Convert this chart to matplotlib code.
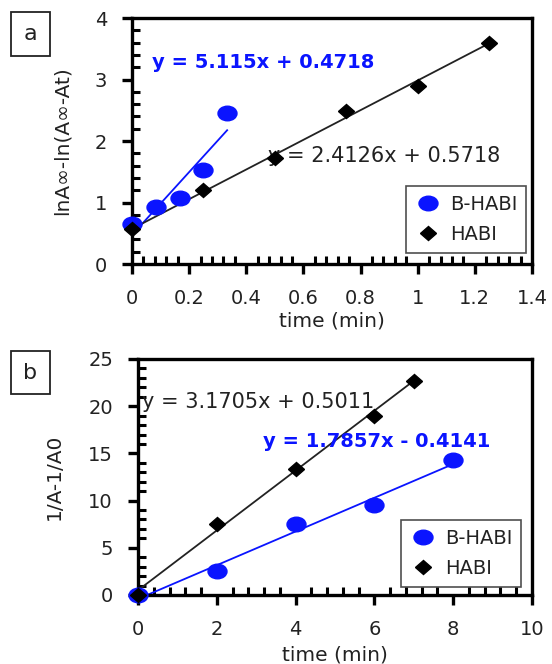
import matplotlib
matplotlib.use('Agg')
import matplotlib.pyplot as plt
from matplotlib.ticker import MultipleLocator
from matplotlib.markers import MarkerStyle
from matplotlib.transforms import Affine2D
from matplotlib.patches import Rectangle
import numpy as np

plt.rcParams['font.family'] = ['DejaVu Sans']

#******  PANEL a : first order plot  ******#
a_bhabi_t = [0, 0.083, 0.167, 0.25, 0.333]
a_bhabi_y = [0.65, 0.92, 1.08, 1.53, 2.46]
a_habi_t = [0, 0.25, 0.5, 0.75, 1.0, 1.25]
a_habi_y = [0.57, 1.2, 1.72, 2.49, 2.9, 3.6]
a_bhabi_fit = (5.115, 0.4718)
a_habi_fit = (2.4126, 0.5718)
a_xticklabels = ['0', '0.2', '0.4', '0.6', '0.8', '1', '1.2', '1.4']

#******  PANEL b : second order plot  ******#
b_bhabi_t = [0, 2, 4, 6, 8]
b_bhabi_y = [0, 2.5, 7.5, 9.5, 14.3]
b_habi_t = [0, 2, 4, 6, 7]
b_habi_y = [0, 7.5, 13.4, 19.0, 22.7]
b_bhabi_fit = (1.7857, -0.4141)
b_habi_fit = (3.1705, 0.5011)

BLUE = '#0a14ff'
DARK = '#222222'
TICK_FS = 14
LAB_FS = 14.5
EQ_FS = 15

W, H = 552, 664
fig = plt.figure(figsize=(W / 100, H / 100), dpi=100)

# wide ellipse / flattened diamond markers
oval = MarkerStyle('o', transform=Affine2D().scale(1.3, 1.0))
diam = MarkerStyle('D', transform=Affine2D().scale(1.15, 1.0))

def make_axes(left, top, right, bottom):
    return fig.add_axes([left / W, 1 - bottom / H, (right - left) / W, (bottom - top) / H])

def fit_label(slope, icpt):
    sign = '+' if icpt >= 0 else '-'
    return 'y = %gx %s %g' % (slope, sign, abs(icpt))

def style(ax, xmaj, xmin, ymaj, ymin):
    for s in ax.spines.values():
        s.set_linewidth(2.4)
    ax.xaxis.set_major_locator(MultipleLocator(xmaj))
    ax.xaxis.set_minor_locator(MultipleLocator(xmin))
    ax.yaxis.set_major_locator(MultipleLocator(ymaj))
    ax.yaxis.set_minor_locator(MultipleLocator(ymin))
    ax.tick_params(which='major', direction='out', length=7, width=2.4,
                   labelsize=TICK_FS, pad=11, labelcolor=DARK)
    ax.tick_params(which='minor', direction='in', length=5.5, width=2.2)
    ax.tick_params(top=False, right=False, which='both')

def draw_panel(ax, bt, by, ht, hy, bfit, hfit, leg_anchor):
    xb = np.array([min(bt), max(bt)])
    xh = np.array([min(ht), max(ht)])
    ax.plot(xb, bfit[0] * xb + bfit[1], color=BLUE, lw=1.3, zorder=2)
    ax.plot(xh, hfit[0] * xh + hfit[1], color=DARK, lw=1.3, zorder=2)
    ax.plot(bt, by, ls='none', marker=oval, color=BLUE, ms=10.5, mec=BLUE,
            label='B-HABI', zorder=3, clip_on=False)
    ax.plot(ht, hy, ls='none', marker=diam, color='black', ms=7,
            label='HABI', zorder=4, clip_on=False)
    leg = ax.legend(loc='lower right', bbox_to_anchor=leg_anchor, fontsize=TICK_FS,
                    frameon=True, fancybox=False, edgecolor=DARK, handletextpad=0.4,
                    borderpad=0.45, labelspacing=0.6, handlelength=1.4,
                    borderaxespad=0)
    leg.get_frame().set_linewidth(1.2)
    for t in leg.get_texts():
        t.set_color(DARK)

def panel_tag(cx, cy, letter):
    fig.patches.append(Rectangle(((cx - 19.5) / W, 1 - (cy + 21.5) / H), 39 / W, 43 / H,
                                 transform=fig.transFigure, fill=False, ec=DARK, lw=1.3))
    fig.text(cx / W, 1 - cy / H, letter, fontsize=16, ha='center', va='center', color=DARK)

#---- a ----
ax1 = make_axes(132, 18, 532, 264)
ax1.set_xlim(0, 1.4)
ax1.set_ylim(0, 4)
style(ax1, 0.2, 0.04, 1, 0.2)
ax1.set_xticks(np.arange(0, 1.41, 0.2))
ax1.set_xticklabels(a_xticklabels)
draw_panel(ax1, a_bhabi_t, a_bhabi_y, a_habi_t, a_habi_y, a_bhabi_fit, a_habi_fit,
           (0.985, 0.045))
ax1.set_xlabel('time (min)', fontsize=LAB_FS, color=DARK, va='center')
ax1.xaxis.set_label_coords(0.5, -0.232)
ax1.set_ylabel('lnA\u221e-ln(A\u221e-At)', fontsize=LAB_FS, color=DARK, va='center')
ax1.yaxis.set_label_coords(-0.175, 0.5)
ax1.text(0.07, 3.27, fit_label(*a_bhabi_fit), color=BLUE, fontsize=EQ_FS - 1,
         fontweight='bold', va='center')
ax1.text(0.476, 1.756, fit_label(*a_habi_fit), color=DARK, fontsize=EQ_FS, va='center')
panel_tag(30, 34, 'a')

#---- b ----
ax2 = make_axes(138, 359, 532, 595)
ax2.set_xlim(0, 10)
ax2.set_ylim(0, 25)
style(ax2, 2, 0.4, 5, 1)
draw_panel(ax2, b_bhabi_t, b_bhabi_y, b_habi_t, b_habi_y, b_bhabi_fit, b_habi_fit,
           (0.972, 0.034))
ax2.set_xlabel('time (min)', fontsize=LAB_FS, color=DARK, va='center')
ax2.xaxis.set_label_coords(0.5, -0.254)
ax2.set_ylabel('1/A-1/A0', fontsize=LAB_FS, color=DARK, va='center')
ax2.yaxis.set_label_coords(-0.213, 0.5)
ax2.text(0.1, 20.4, fit_label(*b_habi_fit), color=DARK, fontsize=EQ_FS, va='center')
ax2.text(3.17, 16.3, fit_label(*b_bhabi_fit), color=BLUE, fontsize=EQ_FS - 1,
         fontweight='bold', va='center')
panel_tag(30, 373, 'b')

fig.savefig('out.png', dpi=100)
